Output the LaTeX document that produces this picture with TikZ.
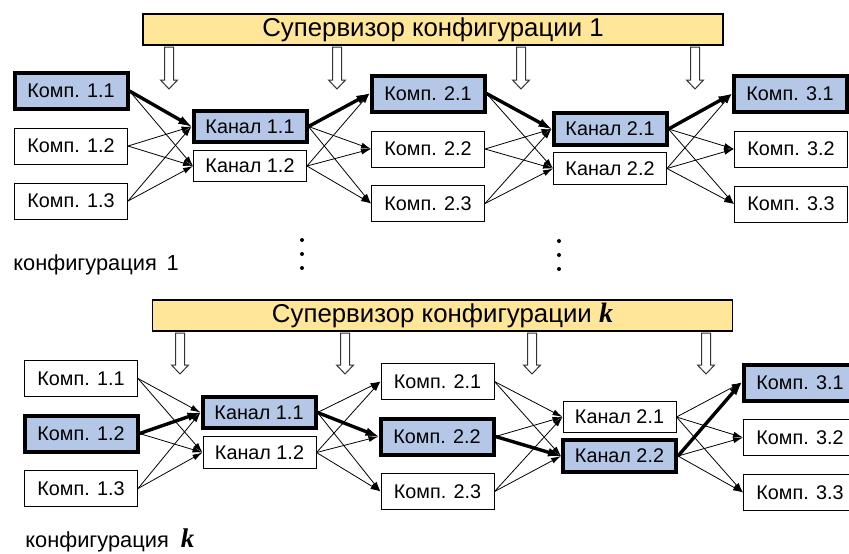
\documentclass[tikz,border=0pt]{standalone}
\usepackage{fontspec}
\setmainfont{Liberation Sans}
\newfontfamily\kfont{Liberation Serif}
\usetikzlibrary{arrows.meta}

\definecolor{supfill}{RGB}{255,230,153}
\definecolor{actfill}{RGB}{180,199,231}

\newcommand\kvar[1][13.5]{{\kfont\fontsize{#1}{15}\selectfont\bfseries\itshape k}}

\tikzset{
  komp/.style={draw, line width=0.5pt, fill=white, inner sep=0pt,
    minimum width=56.5pt, minimum height=18pt,
    font=\fontsize{9.9}{12}\selectfont},
  kanal/.style={komp, minimum height=15.75pt},
  active/.style={line width=2pt, fill=actfill},
  sup/.style={draw, line width=0.8pt, fill=supfill, inner sep=0pt,
    minimum width=290pt, minimum height=15.75pt,
    font=\fontsize{12.9}{15}\selectfont},
  lbl/.style={inner sep=0pt, font=\fontsize{10.9}{13}\selectfont},
  link/.style={line width=0.4pt, -{Latex[length=5pt,width=3pt]}},
  route/.style={line width=1.7pt, -{Latex[length=6.5pt,width=4.5pt]}},
  hollow/.style={draw=black!80, line width=0.5pt, fill=white}
}

\begin{document}
\begin{tikzpicture}[x=0.5pt,y=-0.5pt]
          \useasboundingbox (0,0) rectangle (849,553);

          % configuration 1
          \node[sup] (A-sup) at (433,29.5) {Супервизор конфигурации 1};
          \foreach \x in {169,337,521,695}
            \draw[hollow] (\x-4.5,47) -- ++(9,0) -- ++(0,33) -- ++(4,0)
              -- ++(-8.5,9) -- ++(-8.5,-9) -- ++(4,0) -- cycle;

          \node[komp,active] (A-komp11) at (71,91) {Комп. 1.1};
          \node[komp] (A-komp12) at (71,146) {Комп. 1.2};
          \node[komp] (A-komp13) at (71,201) {Комп. 1.3};
          \node[kanal,active] (A-kan11) at (250,126.5) {Канал 1.1};
          \node[kanal] (A-kan12) at (250,166) {Канал 1.2};
          \node[komp,active] (A-komp21) at (428,93.5) {Комп. 2.1};
          \node[komp] (A-komp22) at (428,149) {Комп. 2.2};
          \node[komp] (A-komp23) at (428,203.5) {Комп. 2.3};
          \node[kanal,active] (A-kan21) at (610,129) {Канал 2.1};
          \node[kanal] (A-kan22) at (610,168.5) {Канал 2.2};
          \node[komp,active] (A-komp31) at (790,94) {Комп. 3.1};
          \node[komp] (A-komp32) at (791,149) {Комп. 3.2};
          \node[komp] (A-komp33) at (791,204) {Комп. 3.3};

          \node[lbl,anchor=base west] (A-lbl) at (13,270) {конфигурация\ \,1};
          \foreach \y in {240,254,268}
            \fill (302,\y) circle (2) (559,\y+1) circle (2);

          % configuration k
          \node[sup] (B-sup) at (442.5,315.5)
            {Супервизор конфигурации \kvar[14]};
          \foreach \x in {180,345,532,706}
            \draw[hollow] (\x-4.5,333) -- ++(9,0) -- ++(0,32) -- ++(4,0)
              -- ++(-8.5,9) -- ++(-8.5,-9) -- ++(4,0) -- cycle;

          \node[komp] (B-komp11) at (81,378.5) {Комп. 1.1};
          \node[komp,active] (B-komp12) at (81,433.5) {Комп. 1.2};
          \node[komp] (B-komp13) at (81,488.5) {Комп. 1.3};
          \node[kanal,active] (B-kan11) at (259,412.5) {Канал 1.1};
          \node[kanal] (B-kan12) at (259.5,452.5) {Канал 1.2};
          \node[komp] (B-komp21) at (437.5,381.5) {Комп. 2.1};
          \node[komp,active] (B-komp22) at (437,436.5) {Комп. 2.2};
          \node[komp] (B-komp23) at (437.5,491.5) {Комп. 2.3};
          \node[kanal] (B-kan21) at (619.5,417) {Канал 2.1};
          \node[kanal,active] (B-kan22) at (619.5,456) {Канал 2.2};
          \node[komp,active] (B-komp31) at (800,382.5) {Комп. 3.1};
          \node[komp] (B-komp32) at (800,437.5) {Комп. 3.2};
          \node[komp] (B-komp33) at (800,492.5) {Комп. 3.3};

          \node[lbl,anchor=base west] (B-lbl) at (25,547)
            {конфигурация\ \ \kvar};

          % all links between neighbouring columns
          \foreach \c in {A,B}
            \foreach \i in {1,2,3}
              \foreach \j in {1,2} {
                \draw[link] (\c-komp1\i.east) -- (\c-kan1\j.west);
                \draw[link] (\c-komp2\i.east) -- (\c-kan2\j.west);
                \draw[link] (\c-kan1\j.east) -- (\c-komp2\i.west);
                \draw[link] (\c-kan2\j.east) -- (\c-komp3\i.west);
              }

          % chosen routes
          \draw[route] (A-komp11.east) -- (A-kan11.west);
          \draw[route] (A-kan11.east) -- (A-komp21.west);
          \draw[route] (A-komp21.east) -- (A-kan21.west);
          \draw[route] (A-kan21.east) -- (A-komp31.west);
          \draw[route] (B-komp12.east) -- (B-kan11.west);
          \draw[route] (B-kan11.east) -- (B-komp22.west);
          \draw[route] (B-komp22.east) -- (B-kan22.west);
          \draw[route] (B-kan22.east) -- (B-komp31.west);
\end{tikzpicture}
\end{document}
